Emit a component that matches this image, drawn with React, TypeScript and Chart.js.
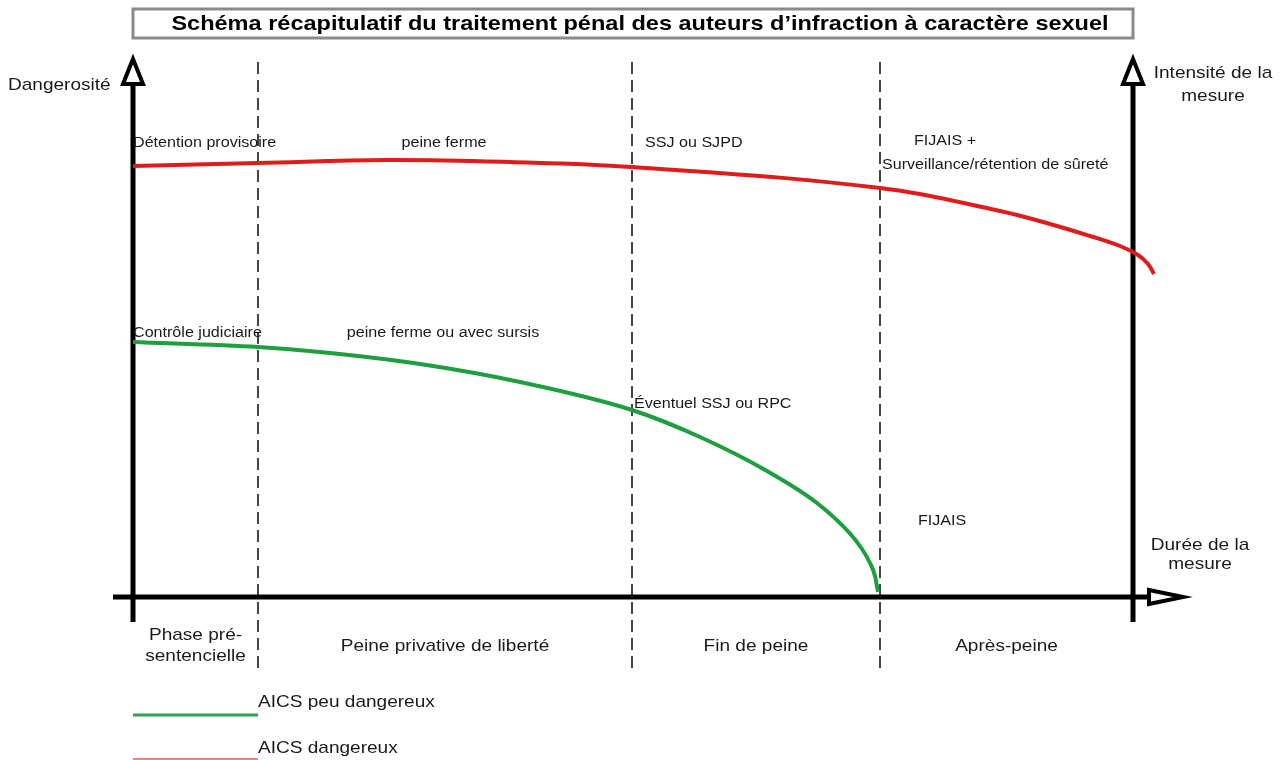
import { useEffect, useRef } from "react";
import { Chart, registerables } from "chart.js";

Chart.register(...registerables);

// ---- Data (domain units: x = durée de la mesure, y = intensité / dangerosité) ----
const lowRiskX = [0, 1.25, 1.87, 2.87, 3.87, 4.99, 5.67, 6.34, 6.84, 7.17, 7.29, 7.37, 7.42, 7.45];
const lowRiskY = [5.1, 5.0, 4.9, 4.66, 4.3, 3.74, 3.2, 2.52, 1.88, 1.27, 0.96, 0.68, 0.42, 0.1];
const highRiskX = [0, 1.25, 2.54, 3.77, 4.99, 7.47, 8.67, 9.17, 9.57, 9.87, 10.05, 10.15, 10.21];
const highRiskY = [8.62, 8.68, 8.74, 8.7, 8.6, 8.18, 7.72, 7.46, 7.22, 7.02, 6.84, 6.66, 6.46];
const seriesNames = ["AICS peu dangereux", "AICS dangereux"];
const phaseBounds = [1.25, 4.99, 7.47];
const phaseLabels = [["Phase pré-", "sentencielle"], ["Peine privative de liberté"], ["Fin de peine"], ["Après-peine"]];
const measureLabels = [
  "Détention provisoire",
  "peine ferme",
  "SSJ ou SJPD",
  "FIJAIS +",
  "Surveillance/rétention de sûreté",
  "Contrôle judiciaire",
  "peine ferme ou avec sursis",
  "Éventuel SSJ ou RPC",
  "FIJAIS",
];
const titleText = "Schéma récapitulatif du traitement pénal des auteurs d’infraction à caractère sexuel";
const yAxisLabel = ["Dangerosité"];
const yAxisRightLabel = ["Intensité de la", "mesure"];
const xAxisLabel = ["Durée de la", "mesure"];

// ---- Layout (positions of annotations in domain units, alignment) ----
const measureLayout: { x: number; y: number; align: CanvasTextAlign }[] = [
  { x: 0.0, y: 9.08, align: "left" },
  { x: 3.11, y: 9.08, align: "center" },
  { x: 5.12, y: 9.08, align: "left" },
  { x: 7.81, y: 9.12, align: "left" },
  { x: 7.49, y: 8.64, align: "left" },
  { x: 0.0, y: 5.28, align: "left" },
  { x: 3.1, y: 5.28, align: "center" },
  { x: 5.01, y: 3.86, align: "left" },
  { x: 7.85, y: 1.52, align: "left" },
];

const SANS = "'Liberation Sans', Arial, sans-serif";
const GREEN = "#1d9e3f";
const RED = "#e01b1b";

const toPts = (xs: number[], ys: number[]) => xs.map((x, i) => ({ x, y: ys[i] }));

function stretchText(ctx: CanvasRenderingContext2D, text: string, x: number, y: number, sx: number, align: CanvasTextAlign) {
  ctx.save();
  ctx.translate(x, y);
  ctx.scale(sx, 1);
  ctx.textAlign = align;
  ctx.fillText(text, 0, 0);
  ctx.restore();
}

function openArrow(ctx: CanvasRenderingContext2D, pts: [number, number][]) {
  ctx.beginPath();
  ctx.moveTo(pts[0][0], pts[0][1]);
  for (let i = 1; i < pts.length; i++) ctx.lineTo(pts[i][0], pts[i][1]);
  ctx.closePath();
  ctx.fillStyle = "#fff";
  ctx.fill();
  ctx.lineWidth = 4;
  ctx.lineJoin = "miter";
  ctx.strokeStyle = "#000";
  ctx.stroke();
}

const decorPlugin = {
  id: "decor",
  beforeDatasetsDraw(chart: any) {
    const ctx: CanvasRenderingContext2D = chart.ctx;
    const xs = chart.scales.x;
    const ys = chart.scales.y;
    const X = (v: number) => xs.getPixelForValue(v);
    const Y = (v: number) => ys.getPixelForValue(v);
    ctx.save();
    // phase separators
    ctx.strokeStyle = "#444";
    ctx.lineWidth = 2;
    ctx.setLineDash([12, 6]);
    phaseBounds.forEach((b) => {
      ctx.beginPath();
      ctx.moveTo(Math.round(X(b)), Y(10.7));
      ctx.lineTo(Math.round(X(b)), Y(-1.42));
      ctx.stroke();
    });
    ctx.setLineDash([]);
    // axes
    ctx.strokeStyle = "#000";
    ctx.lineWidth = 5;
    ctx.lineCap = "butt";
    const x0 = X(0), x1 = X(10), y0 = Y(0);
    ctx.beginPath();
    ctx.moveTo(x0, Y(10.3));
    ctx.lineTo(x0, Y(-0.5));
    ctx.moveTo(x1, Y(10.3));
    ctx.lineTo(x1, Y(-0.5));
    ctx.moveTo(X(-0.2), y0);
    ctx.lineTo(X(10.16), y0);
    ctx.stroke();
    const tipY = Y(10.76);
    const baseY = Y(10.26);
    openArrow(ctx, [[x0, tipY], [x0 + 10, baseY], [x0 - 10, baseY]]);
    openArrow(ctx, [[x1, tipY], [x1 + 10, baseY], [x1 - 10, baseY]]);
    const bx = X(10.16), tx = X(10.5);
    openArrow(ctx, [[tx, y0], [bx, y0 - 7], [bx, y0 + 7]]);
    ctx.restore();
  },
  afterDatasetsDraw(chart: any) {
    const ctx: CanvasRenderingContext2D = chart.ctx;
    const xs = chart.scales.x;
    const ys = chart.scales.y;
    const X = (v: number) => xs.getPixelForValue(v);
    const Y = (v: number) => ys.getPixelForValue(v);
    ctx.save();
    ctx.fillStyle = "#1a1a1a";
    ctx.textBaseline = "middle";
    // measure annotations
    ctx.font = `14px ${SANS}`;
    measureLabels.forEach((t, i) => {
      const l = measureLayout[i];
      stretchText(ctx, t, X(l.x), Y(l.y), 1.15, l.align);
    });
    // phase labels
    ctx.font = `17px ${SANS}`;
    const edges = [0, ...phaseBounds, 10];
    phaseLabels.forEach((lines, i) => {
      const cx = (X(edges[i]) + X(edges[i + 1])) / 2;
      const cy = Y(-0.98);
      const lh = 21;
      lines.forEach((ln, j) => {
        stretchText(ctx, ln, cx, cy + (j - (lines.length - 1) / 2) * lh, 1.12, "center");
      });
    });
    // axis labels
    stretchText(ctx, yAxisLabel[0], 8, Y(10.24), 1.12, "left");
    yAxisRightLabel.forEach((ln, j) => stretchText(ctx, ln, X(10.8), Y(10.48) + j * 23, 1.12, "center"));
    xAxisLabel.forEach((ln, j) => stretchText(ctx, ln, X(10.67), Y(1.04) + j * 19, 1.12, "center"));
    // legend
    const lx0 = X(0), lx1 = X(1.25);
    const legendY = [715, 759];
    const legendTextY = [702, 748];
    const colors = ["#2ea34f", "#f07f86"];
    seriesNames.forEach((n, i) => {
      ctx.strokeStyle = colors[i];
      ctx.lineWidth = i === 0 ? 3 : 2;
      ctx.beginPath();
      ctx.moveTo(lx0, legendY[i]);
      ctx.lineTo(lx1, legendY[i]);
      ctx.stroke();
      stretchText(ctx, n, lx1, legendTextY[i], 1.12, "left");
    });
    // title
    ctx.strokeStyle = "#8a8a8a";
    ctx.lineWidth = 3;
    ctx.fillStyle = "#fff";
    ctx.fillRect(133, 9, 1000, 29);
    ctx.strokeRect(133, 9, 1000, 29);
    ctx.fillStyle = "#000";
    ctx.font = `bold 21px ${SANS}`;
    stretchText(ctx, titleText, 640, 24, 1.12, "center");
    ctx.restore();
  },
};

export default function App() {
  const ref = useRef<HTMLCanvasElement | null>(null);
  useEffect(() => {
    if (!ref.current) return;
    const chart = new Chart(ref.current, {
      type: "line",
      data: {
        datasets: [
          {
            label: seriesNames[0],
            data: toPts(lowRiskX, lowRiskY),
            borderColor: GREEN,
            borderWidth: 4,
            pointRadius: 0,
            cubicInterpolationMode: "monotone",
            clip: false as any,
          },
          {
            label: seriesNames[1],
            data: toPts(highRiskX, highRiskY),
            borderColor: RED,
            borderWidth: 4,
            pointRadius: 0,
            tension: 0.4,
            clip: false as any,
          },
        ],
      },
      options: {
        responsive: false,
        animation: false,
        layout: { padding: { left: 133, right: 124, top: 97, bottom: 163 } },
        plugins: { legend: { display: false }, tooltip: { enabled: false }, title: { display: false } },
        scales: {
          x: { type: "linear", min: 0, max: 10.3, display: false },
          y: { type: "linear", min: 0, max: 10, display: false },
        },
      },
      plugins: [decorPlugin],
    });
    return () => chart.destroy();
  }, []);
  return (
    <div style={{ position: "fixed", left: 0, top: 0, width: 1287, height: 760, background: "#fff" }}>
      <canvas ref={ref} width={1287} height={760} />
    </div>
  );
}
